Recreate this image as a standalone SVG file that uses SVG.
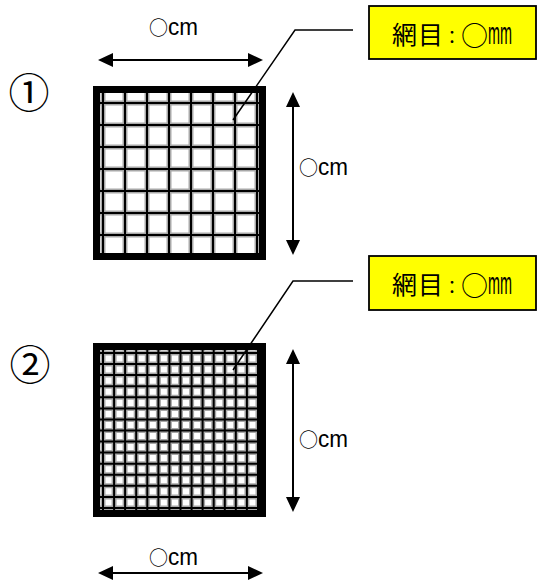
<svg xmlns="http://www.w3.org/2000/svg" xmlns:xlink="http://www.w3.org/1999/xlink" width="542" height="586" viewBox="0 0 542 586">
<style>
.txt{font-family:"Noto Sans CJK JP","Noto Sans",sans-serif;fill:#000}
.lat{font-family:"Liberation Sans Narrow","Liberation Sans",Arial,sans-serif}
.dim{stroke:#000;stroke-width:2;fill:none;marker-start:url(#ah);marker-end:url(#ah)}
.lead{stroke:#000;stroke-width:1.5;fill:none}
.halo{stroke:#a8a8a8;stroke-width:5;fill:none}
.core{stroke:#000;stroke-width:2;fill:none}
.frame{fill:none;stroke:#000;stroke-width:7}
.box{fill:#ffff00;stroke:#000;stroke-width:1.8}
</style>
<defs>
<marker id="ah" viewBox="0 0 15 14" refX="5" refY="7" markerWidth="15" markerHeight="14" markerUnits="userSpaceOnUse" orient="auto-start-reverse">
<path d="M0,0 L15,7 L0,14 Z" fill="#000"/>
</marker>
<clipPath id="c1"><rect x="100" y="89.5" width="159" height="167"/></clipPath>
<clipPath id="c2"><rect x="100" y="346.5" width="159" height="167"/></clipPath>
<path id="g1" d="M103 90V256M125 90V256M147 90V256M169 90V256M191 90V256M213 90V256M235 90V256M257 90V256M97 103H262M97 125H262M97 147H262M97 169H262M97 191H262M97 213H262M97 235H262M97 257H262"/>
<path id="g2" d="M103 347V513M114.1 347V513M125.1 347V513M136.2 347V513M147.3 347V513M158.4 347V513M169.4 347V513M180.5 347V513M191.6 347V513M202.6 347V513M213.7 347V513M224.8 347V513M235.8 347V513M246.9 347V513M258 347V513M97 353H262M97 364.1H262M97 375.1H262M97 386.2H262M97 397.3H262M97 408.4H262M97 419.4H262M97 430.5H262M97 441.6H262M97 452.6H262M97 463.7H262M97 474.8H262M97 485.8H262M97 496.9H262M97 508H262"/>
</defs>
<rect width="542" height="586" fill="#fff"/>

<g id="num1"><text class="txt" x="29" y="108" font-size="41" text-anchor="middle">①</text></g>
<g id="num2"><text class="txt" x="30" y="380" font-size="41" text-anchor="middle">②</text></g>

<g id="panel1">
<g clip-path="url(#c1)">
<use xlink:href="#g1" class="halo"/>
<use xlink:href="#g1" class="core"/>
</g>
<rect class="frame" x="96.5" y="89.5" width="166" height="167"/>
</g>

<g id="panel2">
<g clip-path="url(#c2)">
<use xlink:href="#g2" class="halo"/>
<use xlink:href="#g2" class="core"/>
</g>
<rect class="frame" x="96.5" y="346.5" width="166" height="167"/>
</g>

<g id="label1">
<rect class="box" x="369" y="6" width="167" height="53"/>
<text class="txt" y="44" font-size="25"><tspan x="392">網</tspan><tspan x="418">目</tspan><tspan x="443" font-size="18">：</tspan><tspan x="461" y="46" font-size="27">○</tspan><tspan class="lat" x="488" y="44" font-size="32" textLength="24" lengthAdjust="spacingAndGlyphs">mm</tspan></text>
</g>
<g id="label2">
<rect class="box" x="369" y="256" width="167" height="54"/>
<text class="txt" y="294" font-size="25"><tspan x="392">網</tspan><tspan x="418">目</tspan><tspan x="443" font-size="18">：</tspan><tspan x="461" y="296" font-size="27">○</tspan><tspan class="lat" x="488" y="294" font-size="32" textLength="24" lengthAdjust="spacingAndGlyphs">mm</tspan></text>
</g>

<g id="dimlabels">
<text class="txt" y="35"><tspan x="149" font-size="19">○</tspan><tspan class="lat" x="168" font-size="24" textLength="30" lengthAdjust="spacingAndGlyphs">cm</tspan></text>
<text class="txt" y="175"><tspan x="299" font-size="19">○</tspan><tspan class="lat" x="318" font-size="24" textLength="30" lengthAdjust="spacingAndGlyphs">cm</tspan></text>
<text class="txt" y="447"><tspan x="299" font-size="19">○</tspan><tspan class="lat" x="318" font-size="24" textLength="30" lengthAdjust="spacingAndGlyphs">cm</tspan></text>
<text class="txt" y="565"><tspan x="149" font-size="19">○</tspan><tspan class="lat" x="168" font-size="24" textLength="30" lengthAdjust="spacingAndGlyphs">cm</tspan></text>
</g>

<g id="connectors">
<line class="dim" x1="108" y1="60" x2="253" y2="60"/>
<line class="dim" x1="293" y1="102" x2="293" y2="245"/>
<line class="dim" x1="293" y1="359" x2="293" y2="502"/>
<line class="dim" x1="108" y1="573" x2="253" y2="573"/>
<polyline class="lead" points="233,120 295,30 353,30"/>
<polyline class="lead" points="233,370 293,281 353,281"/>
</g>
</svg>
